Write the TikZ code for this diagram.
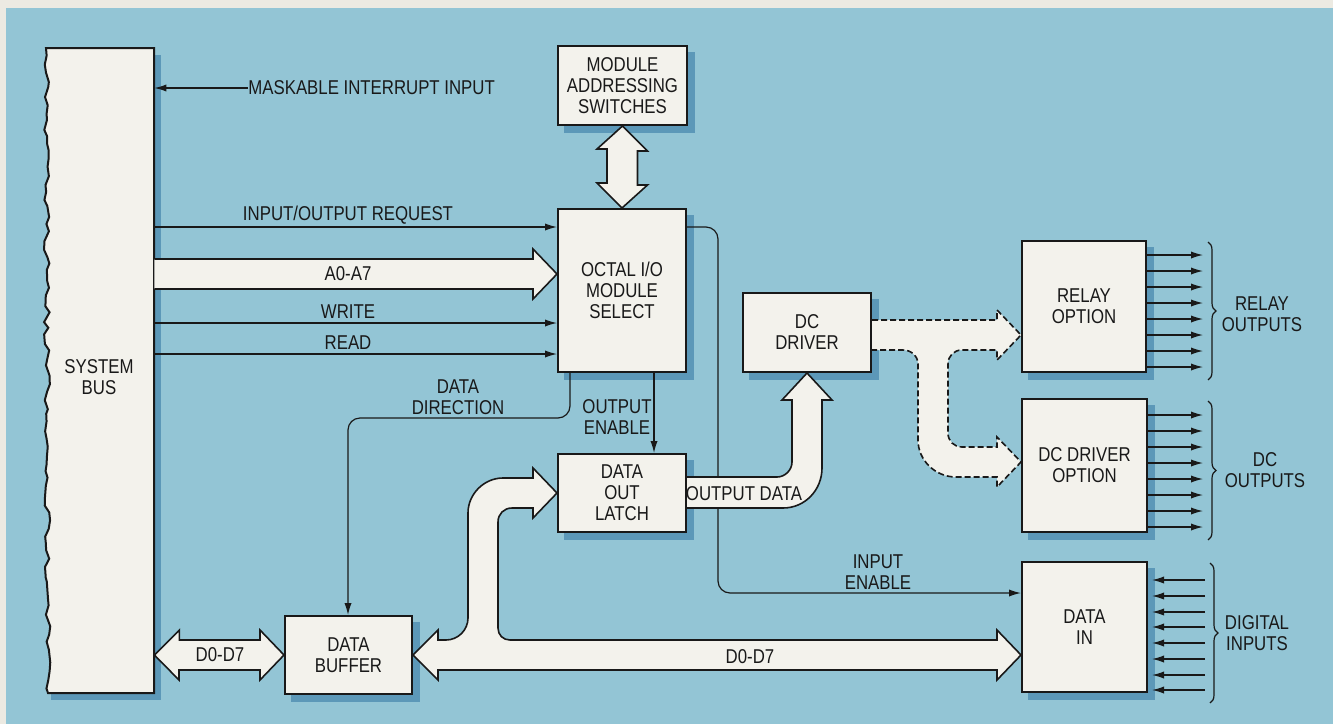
\documentclass[tikz,border=0pt]{standalone}
\usepackage{fontspec}
\newfontfamily\lbfont[FakeStretch=0.84]{Liberation Sans}
\usepackage{tikz}
\usetikzlibrary{arrows.meta,backgrounds,decorations.pathreplacing,decorations.pathmorphing}
\definecolor{bgblue}{RGB}{147,197,213}
\definecolor{shblue}{RGB}{92,152,184}
\definecolor{boxfill}{RGB}{243,242,236}
\definecolor{inkcol}{RGB}{25,25,25}
\definecolor{pagecol}{RGB}{236,234,226}
\newcommand{\dgfont}{\lbfont\fontsize{10}{10.5}\selectfont}

\begin{document}
\begin{tikzpicture}[x=0.5pt, y=-0.5pt,
    box/.style={rectangle, draw=inkcol, fill=boxfill, line width=1pt, align=center, inner sep=0pt,
      font=\dgfont, text=inkcol},
    lbl/.style={font=\dgfont, text=inkcol, align=center, inner sep=1pt},
    sig/.style={draw=inkcol, line width=0.6pt, -{Latex[length=6pt, width=3.6pt]}},
    fat/.style={draw=inkcol, fill=boxfill, line width=0.8pt, line join=miter},
    fatdash/.style={fat, dash pattern=on 3pt off 1.5pt},
    brc/.style={draw=inkcol, line width=0.6pt, decorate, decoration={brace, amplitude=4pt}}]
  \useasboundingbox (0,0) rectangle (1333,724);

  % system bus with torn left edge
  \pgfmathsetseed{7}
  \draw[fill=boxfill, draw=inkcol, line width=1pt]
    (154,48) -- (46,48) decorate[decoration={random steps, segment length=4pt, amplitude=1.4pt}] {-- (48,693)}
    -- (154,693) -- cycle;
  \node[lbl, minimum width=55pt, minimum height=322.5pt] (bus) at (99,370.5) {};
  \node[lbl] (lbus) at (99,377) {SYSTEM\\BUS};

  % blocks
  \node[box, minimum width=64.5pt, minimum height=39.5pt] (switches) at (622.5,85.5) {MODULE\\ADDRESSING\\SWITCHES};
  \node[box, minimum width=64pt, minimum height=81.5pt] (octal) at (622,290.5) {OCTAL I/O\\MODULE\\SELECT};
  \node[box, minimum width=64pt, minimum height=39pt] (latch) at (622,493) {DATA\\OUT\\LATCH};
  \node[box, minimum width=63.5pt, minimum height=39pt] (buffer) at (348.5,655) {DATA\\BUFFER};
  \node[box, minimum width=64pt, minimum height=39.5pt] (dcdrv) at (807,332.5) {DC\\DRIVER};
  \node[box, minimum width=62pt, minimum height=65.5pt] (relay) at (1084,306.5) {RELAY\\OPTION};
  \node[box, minimum width=62.5pt, minimum height=66.5pt] (dcopt) at (1084.5,465.5) {DC DRIVER\\OPTION};
  \node[box, minimum width=62.5pt, minimum height=65pt] (datain) at (1084.5,627) {DATA\\IN};

  % page, panel and shadows behind everything
  \begin{scope}[on background layer]
    \fill[pagecol] (0,0) rectangle (1333,724);
    \fill[bgblue] (6,8) rectangle (1333,724);
    \foreach \n in {bus,switches,octal,latch,buffer,dcdrv,relay,dcopt,datain}
      \fill[shblue] ([shift={(3.5pt,-3.5pt)}]\n.north west) rectangle ([shift={(3.5pt,-3.5pt)}]\n.south east);
  \end{scope}

  % control lines
  \node[lbl, anchor=west, inner sep=0pt] (lmask) at (248,88) {MASKABLE INTERRUPT INPUT};
  \draw[sig] (lmask.west) -- (bus.east |- lmask.west);
  \node[lbl] (lreq) at (348,215) {INPUT/OUTPUT REQUEST};
  \draw[sig] (bus.east |- 0,227) -- (octal.west |- 0,227);
  \node[lbl] (lwr) at (348,312) {WRITE};
  \draw[sig] (bus.east |- 0,323) -- (octal.west |- 0,323);
  \node[lbl] (lrd) at (348,343) {READ};
  \draw[sig] (bus.east |- 0,354) -- (octal.west |- 0,354);
  \node[lbl] (ldir) at (458,397) {DATA\\DIRECTION};
  \draw[sig, rounded corners=6pt] (octal.south -| 570,0) -- (570,418) -- (348,418) -- (buffer.north -| 348,0);
  \node[lbl] (loe) at (617,417) {OUTPUT\\ENABLE};
  \draw[sig] (octal.south -| 654,0) -- (latch.north -| 654,0);
  \node[lbl] (lie) at (878,572) {INPUT\\ENABLE};
  \draw[sig, rounded corners=6pt] (octal.east |- 0,227) -- (718,227) -- (718,593) -- (datain.west |- 0,593);

  % outputs and inputs
  \foreach \y in {255,271,...,367}
    \draw[sig] (relay.east |- 0,\y) -- (1203,\y);
  \foreach \y in {415,431,...,527}
    \draw[sig] (dcopt.east |- 0,\y) -- (1203,\y);
  \foreach \y in {580,596,612,627,643,659,675,690}
    \draw[sig, shorten >=2pt] (1205,\y) -- (datain.east |- 0,\y);
  \draw[brc] (1208,242) -- (1208,380);
  \draw[brc] (1208,401) -- (1208,540);
  \draw[brc] (1210,563) -- (1210,703);
  \node[lbl] (lrelout) at (1262,314) {RELAY\\OUTPUTS};
  \node[lbl] (ldcout) at (1265,470) {DC\\OUTPUTS};
  \node[lbl] (ldigin) at (1257,633) {DIGITAL\\INPUTS};

  % wide bus arrows
  \draw[fat] (switches.south) -- ++(25,25) -- ++(-10,0) -- ++(0,34) -- ++(10,0) -- (octal.north)
    -- ++(-25,-25) -- ++(10,0) -- ++(0,-34) -- ++(-10,0) -- cycle;
  \draw[fat] (bus.east |- 0,259) -- (533,259) -- (533,249) -- (octal.west |- 0,274) -- (533,299)
    -- (533,289) -- (bus.east |- 0,289);
  \node[lbl] (la0) at (348,274) {A0-A7};
  \draw[fat] (bus.east |- buffer.west) -- ++(25,-25) -- ++(0,10) -- (260,640) -- (260,630) -- (buffer.west)
    -- (260,680) -- (260,670) -- (179,670) -- (179,680) -- cycle;
  \node[lbl] (ld07a) at (220,655) {D0-D7};
  \draw[fat] (buffer.east) -- (438,630) -- (438,640) -- (446,640) .. controls (458,640) and (468,630) .. (468,618)
    -- (468,513) .. controls (468,494) and (484,478) .. (503,478) -- (533,478) -- (533,468) -- (latch.west)
    -- (533,518) -- (533,508) -- (512,508) .. controls (504,508) and (498,514) .. (498,522)
    -- (498,628) .. controls (498,635) and (503,640) .. (510,640) -- (997,640) -- (997,630)
    -- (datain.west |- buffer.east) -- (997,680) -- (997,670) -- (438,670) -- (438,680) -- cycle;
  \node[lbl] (ld07b) at (750,657) {D0-D7};
  \draw[fat] (latch.east |- 0,477) -- (777,477) .. controls (785,477) and (792,470) .. (792,462)
    -- (792,400) -- (782,400) -- (dcdrv.south) -- (832,400) -- (822,400)
    -- (822,468) .. controls (822,490) and (805,508) .. (783,508) -- (latch.east |- 0,508);
  \node[lbl] (lod) at (744,494) {OUTPUT DATA};
  \draw[fatdash] (dcdrv.east |- 0,320) -- (997,320) -- (997,310) -- (relay.west |- 0,335) -- (997,360)
    -- (997,350) -- (962,350) .. controls (954,350) and (948,356) .. (948,364)
    -- (948,433) .. controls (948,441) and (954,447) .. (962,447) -- (997,447) -- (997,437)
    -- (dcopt.west |- 0,462) -- (997,487) -- (997,477) -- (956,477) .. controls (935,477) and (918,460) .. (918,440)
    -- (918,364) .. controls (918,356) and (911,350) .. (903,350) -- (dcdrv.east |- 0,350);
\end{tikzpicture}
\end{document}
